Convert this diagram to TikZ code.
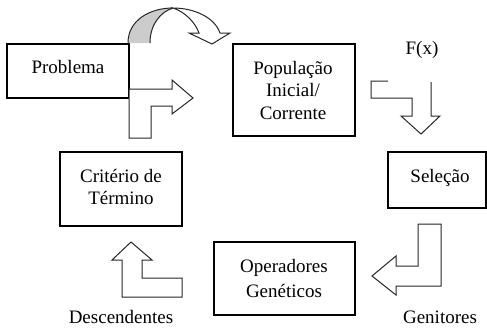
\documentclass[tikz,border=0pt]{standalone}
\usepackage{fontspec}
\setmainfont{Liberation Serif}
\begin{document}
\begin{tikzpicture}[x=1pt,y=-1pt,
  box/.style={draw=black,line width=1.6pt,fill=white,inner sep=0pt},
  lbl/.style={inner sep=0pt,anchor=base,align=center,font=\fontsize{19}{22.5}\selectfont},
  blockarrow/.style={draw=black!85,line width=1pt,fill=white,line join=miter},
]
\useasboundingbox (0,0) rectangle (487,327);

% boxes
\node[box,minimum width=122pt,minimum height=54pt] (problema) at (68,71) {};
\node[box,minimum width=122pt,minimum height=92pt] (pop) at (294,90) {};
\node[box,minimum width=98pt,minimum height=56pt] (selecao) at (437,180) {};
\node[box,minimum width=122pt,minimum height=74pt] (criterio) at (121,189) {};
\node[box,minimum width=141pt,minimum height=73pt] (operadores) at (284.5,278.5) {};

% box texts (anchor = baseline of the last line)
\node[lbl] (problema-t) at (68,73) {Problema};
\node[lbl] (pop-t) at (293,119) {População\\Inicial/\\Corrente};
\node[lbl] (selecao-t) at (440,182) {Seleção};
\node[lbl,font=\fontsize{19}{21.5}\selectfont] (criterio-t) at (121,204) {Critério de\\Término};
\node[lbl,font=\fontsize{19}{25}\selectfont] (operadores-t) at (284,297.5) {Operadores\\Genéticos};

% labels
\node[lbl] (fx) at (422,54) {F(x)};
\node[lbl] (descendentes) at (121,323) {Descendentes};
\node[lbl] (genitores) at (440,323) {Genitores};

% curved arrow from Problema to Populacao
\fill[gray!40] (128,43) .. controls (128,20) and (150,8) .. (173,8)
  .. controls (160,12) and (150,25) .. (150,43) -- cycle;
\draw[black!85,line width=1pt] (128,43) .. controls (128,20) and (150,8) .. (173,8);
\draw[black!85,line width=1pt] (150,43) .. controls (150,25) and (160,12) .. (173,8);
\draw[blockarrow] (173,8) .. controls (195,8) and (215,18) .. (220,33)
  -- (230,33) -- (212,44) -- (189,33) -- (199,33)
  .. controls (195,22) and (185,12) .. (173,8) -- cycle;

% L arrow from Criterio to Populacao
\draw[blockarrow] (129,89) -- (172,89) -- (172,80) -- (193,98) -- (172,114)
  -- (172,106) -- (151,106) -- (151,138) -- (129,138) -- cycle;

% step arrow from Populacao to Selecao (open outline)
\draw[black!85,line width=1pt,line join=miter] (388,81) -- (371,81) -- (371,98)
  -- (412,98) -- (412,116) -- (401,116) -- (421,134) -- (440,116)
  -- (431,116) -- (431,82);

% arrow from Selecao to Operadores
\draw[blockarrow] (418,224) -- (441,224) -- (441,286) -- (396,286) -- (396,295)
  -- (372,276) -- (396,256) -- (396,266) -- (418,266) -- cycle;

% up arrow from Descendentes to Criterio
\draw[blockarrow] (131,242) -- (152,260) -- (142,260) -- (142,278) -- (182,278)
  -- (182,297) -- (122,297) -- (122,260) -- (112,260) -- cycle;
\end{tikzpicture}
\end{document}
